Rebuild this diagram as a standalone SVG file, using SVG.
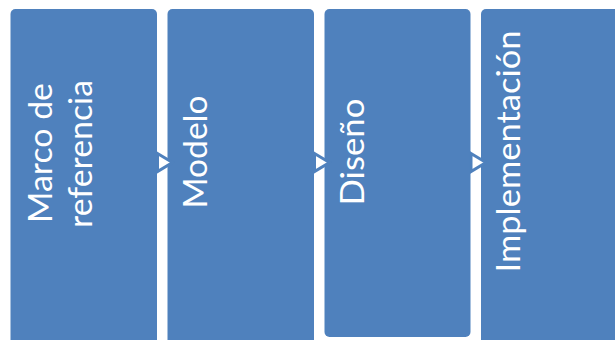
<svg xmlns="http://www.w3.org/2000/svg" width="615" height="340" viewBox="0 0 615 340">
  <style>
    .box { fill: #4F81BD; }
    .lbl { fill: #FFFFFF; font-family: Lato, "Liberation Sans", sans-serif; font-size: 33px; text-anchor: middle; }
    .arrow { fill: #FFFFFF; stroke: #4F81BD; stroke-width: 3; stroke-linejoin: miter; }
  </style>
  <rect x="0" y="0" width="615" height="340" fill="#FFFFFF"/>

  <g id="node-marco">
    <rect class="box" x="10.5" y="9" width="146.5" height="360" rx="5"/>
    <text class="lbl" x="52" y="153" transform="rotate(-90 52 153)" textLength="140" lengthAdjust="spacingAndGlyphs">Marco de</text>
    <text class="lbl" x="92" y="154" transform="rotate(-90 92 154)" textLength="148" lengthAdjust="spacingAndGlyphs">referencia</text>
  </g>

  <g id="node-modelo">
    <rect class="box" x="167.5" y="9" width="146.5" height="360" rx="5"/>
    <text class="lbl" x="207" y="152" transform="rotate(-90 207 152)" textLength="113" lengthAdjust="spacingAndGlyphs">Modelo</text>
  </g>

  <g id="node-diseno">
    <rect class="box" x="324.5" y="9" width="146" height="328" rx="5"/>
    <text class="lbl" x="364" y="152" transform="rotate(-90 364 152)" textLength="107" lengthAdjust="spacingAndGlyphs">Diseño</text>
  </g>

  <g id="node-implementacion">
    <rect class="box" x="481" y="9" width="146.5" height="360" rx="5"/>
    <text class="lbl" x="520" y="151.5" transform="rotate(-90 520 151.5)" textLength="242" lengthAdjust="spacingAndGlyphs">Implementación</text>
  </g>

  <g id="connectors">
    <polygon class="arrow" points="157.5,153.5 172.5,162.5 157.5,171.5"/>
    <polygon class="arrow" points="314.5,153.5 329.5,162.5 314.5,171.5"/>
    <polygon class="arrow" points="471,153.5 486,162.5 471,171.5"/>
  </g>
</svg>
